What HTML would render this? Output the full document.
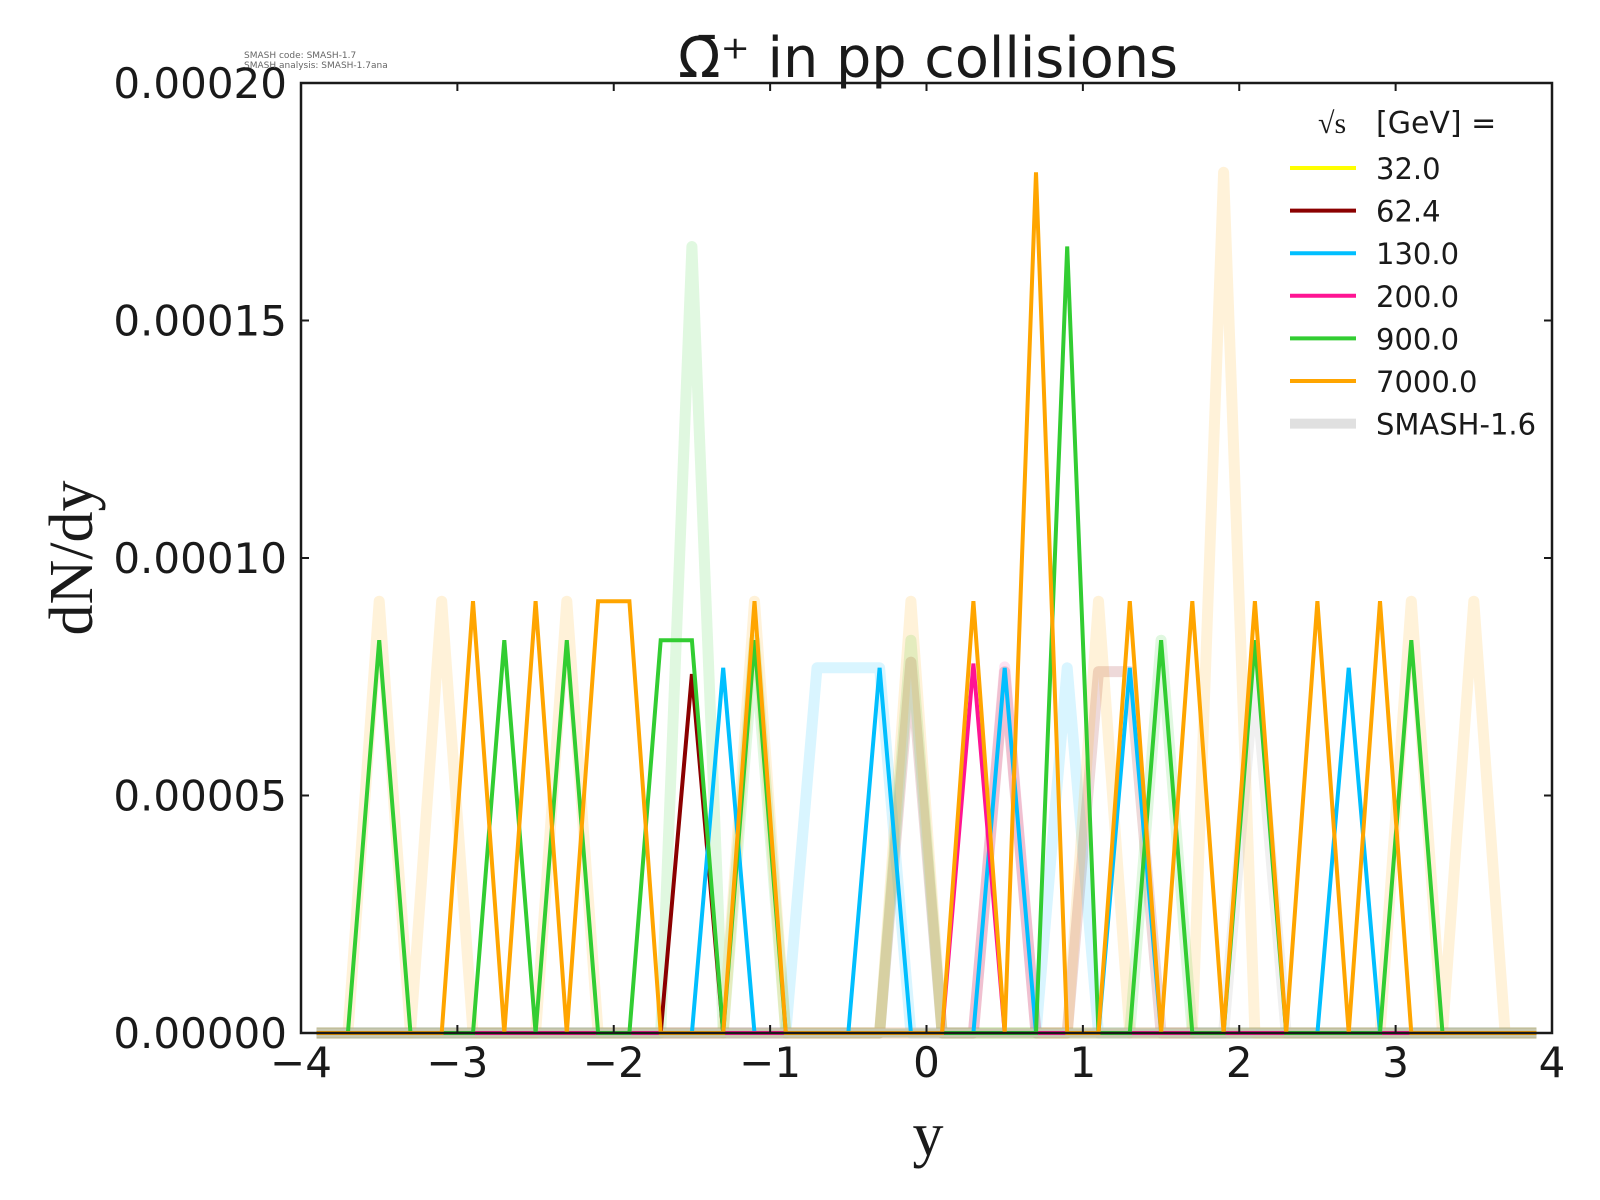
<!DOCTYPE html>
<html><head><meta charset="utf-8"><style>
body{margin:0;background:#fff}
svg{display:block}
text{font-family:"DejaVu Sans","Liberation Sans",sans-serif;fill:#1a1a1a}
</style></head><body>
<svg id="s" width="1600" height="1200" xmlns="http://www.w3.org/2000/svg">
<rect width="1600" height="1200" fill="#fff"/>
<g id="data"></g>
<rect x="301" y="83" width="1251" height="950" fill="none" stroke="#1a1a1a" stroke-width="2.5"/>
<g id="ticks" stroke="#1a1a1a" stroke-width="2"></g>
<g id="labels" font-size="42"></g>
<text x="928" y="77" font-size="56" text-anchor="middle" textLength="500" lengthAdjust="spacingAndGlyphs">Ω̄⁺ in pp collisions</text>
<text x="928" y="1155" font-size="62" text-anchor="middle" style="font-family:'Liberation Serif','DejaVu Serif',serif">y</text>
<text transform="translate(92,558) rotate(-90)" font-size="62" text-anchor="middle" style="font-family:'Liberation Serif','DejaVu Serif',serif">dN/dy</text>
<text x="244" y="58" font-size="9" style="fill:#666">SMASH code:      SMASH-1.7</text>
<text x="244" y="68" font-size="9" style="fill:#666">SMASH analysis: SMASH-1.7ana</text>
<g id="legend"></g>
</svg>
<script>
var X=function(x){return 301+(x+4)*156.375};
var Y=function(v){return 1033-v*47.55};
function series(peaks){var a=[];for(var k=0;k<40;k++)a.push(0);for(var p in peaks)a[p]=peaks[p];return a;}
function pts(a){return a.map(function(v,k){return X(-3.9+0.2*k).toFixed(1)+","+Y(v).toFixed(1)}).join(" ");}
var O=9.08,G=8.26,B=7.68;
var cur=[
 ["#ffff00",series({})],
 ["#8b0000",series({12:7.55})],
 ["#00bfff",series({13:B,18:B,22:B,26:B,33:B})],
 ["#ff1493",series({21:7.77})],
 ["#32cd32",series({2:G,6:G,8:G,11:G,12:G,14:G,24:16.54,27:G,30:G,35:G})],
 ["#ffa500",series({5:O,7:O,9:O,10:O,14:O,21:O,23:18.1,26:O,28:O,30:O,32:O,34:O})]
];
var old=[
 ["#ffff00",series({}),0.2],
 ["#8b0000",series({19:7.8,22:7.6,25:7.6,26:7.6}),0.15],
 ["#00bfff",series({16:B,17:B,18:B,24:B}),0.15],
 ["#ff1493",series({22:7.7}),0.12],
 ["#32cd32",series({12:16.54,14:G,19:G,27:G}),0.15],
 ["#ffa500",series({2:O,4:O,8:O,14:O,19:O,25:O,29:18.1,35:O,37:O}),0.15],
 ["#808080",series({30:7.6}),0.12]
];
var g=document.getElementById("data"),h="";
old.forEach(function(s){h+='<polyline points="'+pts(s[1])+'" fill="none" stroke="'+s[0]+'" stroke-opacity="'+s[2]+'" stroke-width="11" stroke-linejoin="round" stroke-linecap="butt"/>';});
h+='<line x1="'+X(-3.9)+'" y1="1033" x2="'+X(3.9)+'" y2="1033" stroke="#c8c8b0" stroke-width="9"/>';
cur.forEach(function(s){h+='<polyline points="'+pts(s[1])+'" fill="none" stroke="'+s[0]+'" stroke-width="4" stroke-linejoin="miter"/>';});
g.innerHTML=h;
var t="",l="";
for(var i=-4;i<=4;i++){var x=X(i);t+='<line x1="'+x+'" y1="1033" x2="'+x+'" y2="1025"/><line x1="'+x+'" y1="83" x2="'+x+'" y2="91"/>';
 l+='<text x="'+x+'" y="1077" text-anchor="middle">'+(i<0?'\u2212'+(-i):i)+'</text>';}
for(var j=0;j<=4;j++){var y=1033-j*237.5;t+='<line x1="301" y1="'+y+'" x2="309" y2="'+y+'"/><line x1="1552" y1="'+y+'" x2="1544" y2="'+y+'"/>';
 l+='<text x="287" y="'+(y+15)+'" text-anchor="end">0.000'+(j==0?'00':(j*5<10?'0'+j*5:j*5))+'</text>';}
document.getElementById("ticks").innerHTML=t;
document.getElementById("labels").innerHTML=l;
var L='<text x="1318" y="133" font-size="30" style="font-family:\'Liberation Serif\',serif">√s</text><text x="1376" y="133" font-size="30">[GeV] =</text>';
var names=[["#ffff00","32.0"],["#8b0000","62.4"],["#00bfff","130.0"],["#ff1493","200.0"],["#32cd32","900.0"],["#ffa500","7000.0"],["#e0e0e0","SMASH-1.6"]];
names.forEach(function(n,i){var y=168+i*42.6;L+='<line x1="1290" x2="1356" y1="'+y+'" y2="'+y+'" stroke="'+n[0]+'" stroke-width="'+(i==6?10:4)+'"/><text x="1376" y="'+(y+11)+'" font-size="29">'+n[1]+'</text>';});
document.getElementById("legend").innerHTML=L;
</script>
</body></html>
